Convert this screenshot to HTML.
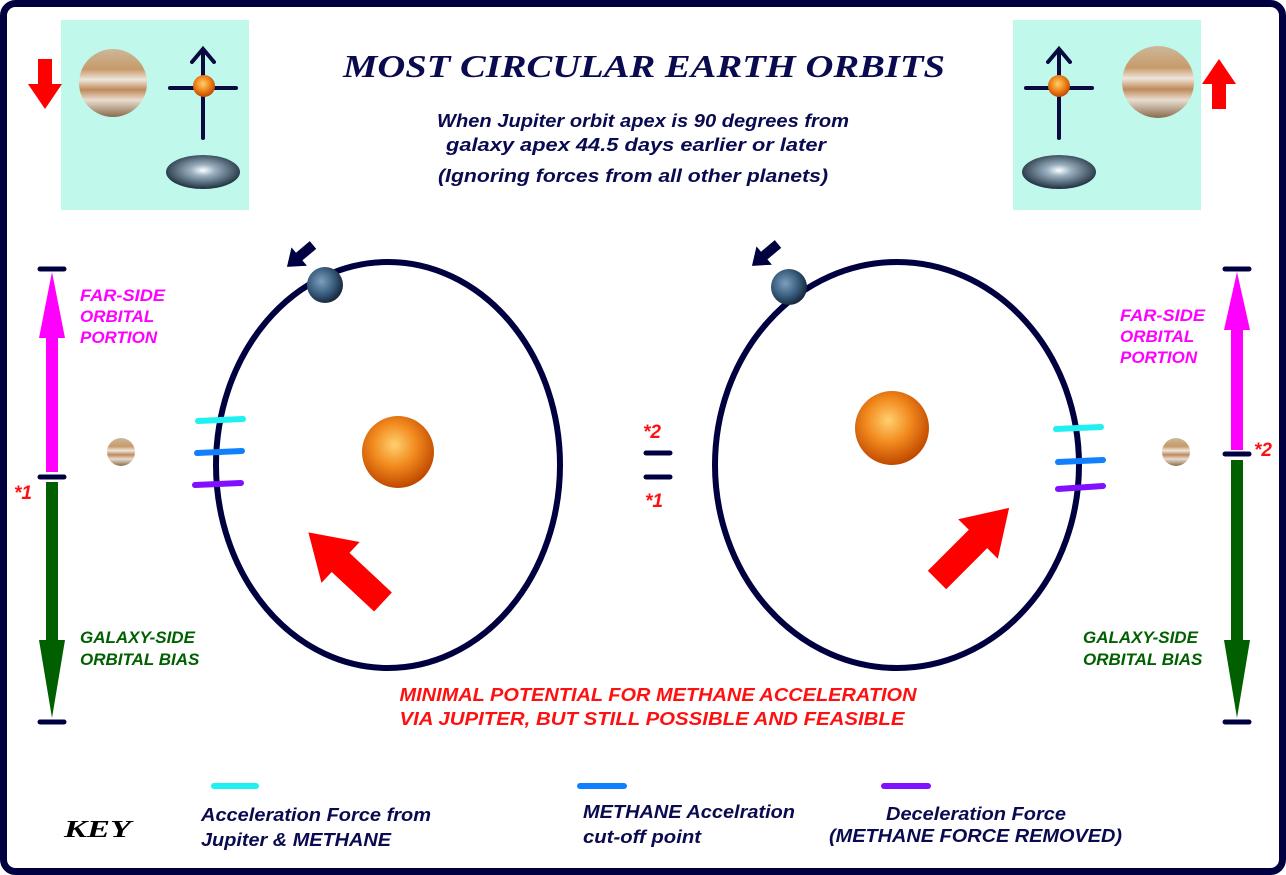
<!DOCTYPE html>
<html><head><style>
html,body{margin:0;padding:0;background:#fff;}
svg{display:block;}
text{font-family:"Liberation Sans",sans-serif;font-style:italic;font-weight:bold;}
</style></head><body>
<svg width="1286" height="875" viewBox="0 0 1286 875" xmlns="http://www.w3.org/2000/svg">
<defs>
<radialGradient id="sun" cx="45%" cy="40%" r="60%"><stop offset="0" stop-color="#ffd070"/><stop offset="0.5" stop-color="#f28a1e"/><stop offset="1" stop-color="#c04800"/></radialGradient>
<linearGradient id="jup" x1="0" y1="0" x2="0" y2="1"><stop offset="0" stop-color="#cbb89a"/><stop offset="0.3" stop-color="#c89a6a"/><stop offset="0.45" stop-color="#eee6dc"/><stop offset="0.6" stop-color="#c08a5a"/><stop offset="0.75" stop-color="#e8ddd0"/><stop offset="1" stop-color="#8a6a4a"/></linearGradient>
<radialGradient id="gal" cx="50%" cy="45%" r="55%"><stop offset="0" stop-color="#ffffff"/><stop offset="0.3" stop-color="#9ab0c0"/><stop offset="1" stop-color="#1e3040"/></radialGradient>
<radialGradient id="earth" cx="40%" cy="40%" r="60%"><stop offset="0" stop-color="#7ea0c0"/><stop offset="0.6" stop-color="#3a5e7e"/><stop offset="1" stop-color="#1a2a40"/></radialGradient>
</defs>
<rect x="3.5" y="3.5" width="1279" height="868" rx="12" fill="#fff" stroke="#000040" stroke-width="7"/>
<rect x="61" y="20" width="188" height="190" fill="#c0f8ec"/>
<rect x="1013" y="20" width="188" height="190" fill="#c0f8ec"/>
<circle cx="113" cy="83" r="34" fill="url(#jup)"/>
<g stroke="#0a0a40" stroke-width="4" fill="none" stroke-linecap="round">
<line x1="203" y1="50" x2="203" y2="138"/><line x1="170" y1="88" x2="236" y2="88"/><polyline points="192,62 203,49 214,62"/>
<line x1="1059" y1="50" x2="1059" y2="138"/><line x1="1026" y1="88" x2="1092" y2="88"/><polyline points="1048,62 1059,49 1070,62"/>
</g>
<circle cx="204" cy="86" r="11" fill="url(#sun)"/>
<ellipse cx="203" cy="172" rx="37" ry="17" fill="url(#gal)"/>
<polygon points="38,59 52,59 52,84 62,84 45,109 28,84 38,84" fill="#ff0000"/>
<circle cx="1158" cy="82" r="36" fill="url(#jup)"/>
<circle cx="1059" cy="86" r="11" fill="url(#sun)"/>
<ellipse cx="1059" cy="172" rx="37" ry="17" fill="url(#gal)"/>
<polygon points="1212,109 1226,109 1226,84 1236,84 1219,59 1202,84 1212,84" fill="#ff0000"/>
<text x="644" y="77" text-anchor="middle" font-size="32" fill="#0a0a50" textLength="602" lengthAdjust="spacingAndGlyphs" style="font-family:'Liberation Serif',serif;font-weight:bold">MOST CIRCULAR EARTH ORBITS</text>
<text x="643" y="127" text-anchor="middle" font-size="18" fill="#0a0a50" textLength="412" lengthAdjust="spacingAndGlyphs">When Jupiter orbit apex is 90 degrees from</text>
<text x="636" y="151" text-anchor="middle" font-size="18" fill="#0a0a50" textLength="380" lengthAdjust="spacingAndGlyphs">galaxy apex 44.5 days earlier or later</text>
<text x="633" y="182" text-anchor="middle" font-size="18" fill="#0a0a50" textLength="390" lengthAdjust="spacingAndGlyphs">(Ignoring forces from all other planets)</text>
<ellipse cx="388" cy="465" rx="172" ry="203" fill="none" stroke="#000040" stroke-width="6"/>
<ellipse cx="897" cy="465" rx="182" ry="203" fill="none" stroke="#000040" stroke-width="6"/>
<circle cx="398" cy="452" r="36" fill="url(#sun)"/>
<circle cx="892" cy="428" r="37" fill="url(#sun)"/>
<circle cx="325" cy="285" r="18" fill="url(#earth)"/>
<circle cx="789" cy="287" r="18" fill="url(#earth)"/>
<circle cx="121" cy="452" r="14" fill="url(#jup)"/>
<circle cx="1176" cy="452" r="14" fill="url(#jup)"/>
<g stroke-width="6" stroke-linecap="round">
<line x1="198" y1="421" x2="243" y2="419" stroke="#20f0f0"/>
<line x1="197" y1="453" x2="242" y2="451" stroke="#1080ff"/>
<line x1="195" y1="485" x2="241" y2="483" stroke="#8010ff"/>
<line x1="1056" y1="429" x2="1101" y2="427" stroke="#20f0f0"/>
<line x1="1058" y1="462" x2="1103" y2="460" stroke="#1080ff"/>
<line x1="1058" y1="489" x2="1103" y2="486" stroke="#8010ff"/>
<line x1="214" y1="786" x2="256" y2="786" stroke="#20f0f0"/>
<line x1="580" y1="786" x2="624" y2="786" stroke="#1080ff"/>
<line x1="884" y1="786" x2="928" y2="786" stroke="#8010ff"/>
</g>
<g stroke="#000040" stroke-width="5" stroke-linecap="round">
<line x1="40" y1="269" x2="64" y2="269"/><line x1="40" y1="477" x2="64" y2="477"/><line x1="40" y1="722" x2="64" y2="722"/>
<line x1="1225" y1="269" x2="1249" y2="269"/><line x1="1225" y1="454" x2="1249" y2="454"/><line x1="1225" y1="722" x2="1249" y2="722"/>
<line x1="646" y1="453" x2="670" y2="453"/><line x1="646" y1="477" x2="670" y2="477"/>
</g>
<polygon points="46,472 58,472 58,338 65,338 52,272 39,338 46,338" fill="#ff00ff"/>
<polygon points="46,482 58,482 58,640 65,640 52,718 39,640 46,640" fill="#006000"/>
<polygon points="1231,450 1243,450 1243,330 1250,330 1237,272 1224,330 1231,330" fill="#ff00ff"/>
<polygon points="1231,460 1243,460 1243,640 1250,640 1237,718 1224,640 1231,640" fill="#006000"/>
<g fill="#ff0000">
<polygon points="0,-13 58,-13 58,-28 102,0 58,28 58,13 0,13" transform="translate(383,602) rotate(-137)"/>
<polygon points="0,-13 58,-13 58,-28 102,0 58,28 58,13 0,13" transform="translate(937,580) rotate(-45)"/>
</g>
<g fill="#000040">
<polygon points="0,-5 18,-5 18,-12 34,0 18,12 18,5 0,5" transform="translate(313,245) rotate(140)"/>
<polygon points="0,-5 18,-5 18,-12 34,0 18,12 18,5 0,5" transform="translate(778,244) rotate(140)"/>
</g>
<g font-size="17" fill="#ff00ff">
<text x="80" y="301" textLength="85" lengthAdjust="spacingAndGlyphs">FAR-SIDE</text><text x="80" y="322">ORBITAL</text><text x="80" y="343">PORTION</text>
<text x="1120" y="321" textLength="85" lengthAdjust="spacingAndGlyphs">FAR-SIDE</text><text x="1120" y="342">ORBITAL</text><text x="1120" y="363">PORTION</text>
</g>
<g font-size="17" fill="#006000">
<text x="80" y="643">GALAXY-SIDE</text><text x="80" y="665">ORBITAL BIAS</text>
<text x="1083" y="643">GALAXY-SIDE</text><text x="1083" y="665">ORBITAL BIAS</text>
</g>
<g font-size="19" fill="#ff1010">
<text x="14" y="499">*1</text><text x="643" y="438">*2</text><text x="645" y="507">*1</text><text x="1254" y="456">*2</text>
</g>
<text x="658" y="701" text-anchor="middle" font-size="18" fill="#ff1010" textLength="517" lengthAdjust="spacingAndGlyphs">MINIMAL POTENTIAL FOR METHANE ACCELERATION</text>
<text x="652" y="725" text-anchor="middle" font-size="18" fill="#ff1010" textLength="505" lengthAdjust="spacingAndGlyphs">VIA JUPITER, BUT STILL POSSIBLE AND FEASIBLE</text>
<text x="64" y="837" font-size="24" fill="#000" textLength="67" lengthAdjust="spacingAndGlyphs" style="font-family:'Liberation Serif',serif;font-weight:bold">KEY</text>
<g font-size="18" fill="#0a0a50">
<text x="201" y="821" textLength="230" lengthAdjust="spacingAndGlyphs">Acceleration Force from</text><text x="201" y="846" textLength="190" lengthAdjust="spacingAndGlyphs">Jupiter &amp; METHANE</text>
<text x="583" y="818" textLength="212" lengthAdjust="spacingAndGlyphs">METHANE Accelration</text><text x="583" y="843" textLength="118" lengthAdjust="spacingAndGlyphs">cut-off point</text>
<text x="886" y="820" textLength="180" lengthAdjust="spacingAndGlyphs">Deceleration Force</text><text x="829" y="842" textLength="293" lengthAdjust="spacingAndGlyphs">(METHANE FORCE REMOVED)</text>
</g>
</svg>
</body></html>
